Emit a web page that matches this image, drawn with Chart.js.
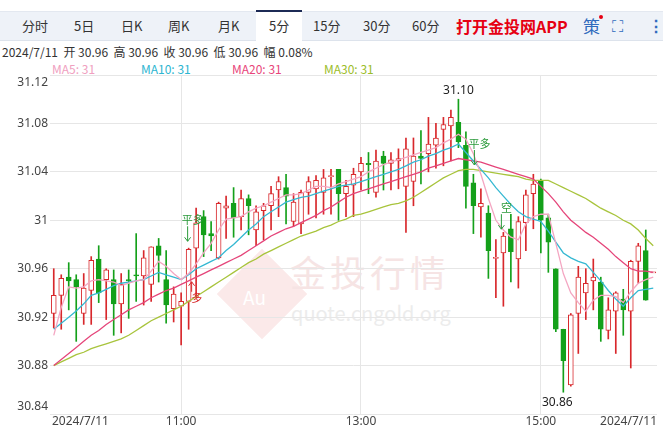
<!DOCTYPE html>
<html><head><meta charset="utf-8">
<script src="https://cdn.jsdelivr.net/npm/chart.js@4/dist/chart.umd.min.js"></script>
<style>
body{margin:0;width:663px;height:428px;overflow:hidden;background:#fff;font-family:"Noto Sans CJK SC","Noto Sans",sans-serif;position:relative}
#tabs{position:absolute;left:0;top:11px;width:663px;height:28px;background:#eef2f8;border-top:1px solid #e3e8f0;border-bottom:1px solid #dde3ec}
.t{position:absolute;top:4px;font-size:13px;color:#333}
#sel{position:absolute;left:256px;top:-2px;width:46px;height:31px;background:#fff;border-top:2px solid #1c2a55}
#info{position:absolute;left:2px;top:43px;font-size:12px;color:#333;white-space:pre}
.ma{position:absolute;top:60px;font-size:12px}
#wm{position:absolute;left:0;top:0;width:663px;height:428px;z-index:0}
canvas{position:absolute;left:0;top:70px;z-index:1}
</style></head><body>
<div id="tabs"><div id="sel"></div>
<span class="t" style="left:22px">分时</span><span class="t" style="left:74px">5日</span><span class="t" style="left:121px">日K</span><span class="t" style="left:168px">周K</span><span class="t" style="left:218px">月K</span><span class="t" style="left:269px">5分</span><span class="t" style="left:313px">15分</span><span class="t" style="left:363px">30分</span><span class="t" style="left:412px">60分</span>
<span class="t" style="left:456px;top:2px;font-size:16px;font-weight:bold;color:#e60012">打开金投网APP</span>
<span class="t" style="left:583px;top:1px;font-size:17px;color:#2f6bbd">策</span><span style="position:absolute;left:599px;top:3px;width:4px;height:4px;border-radius:2px;background:#e60012"></span>
<span class="t" style="left:612px;top:1px;font-size:16px;color:#2f6bbd">⛶</span>
<span class="t" style="left:648px;top:1px;font-size:16px;font-weight:bold;color:#2f6bbd">⋮</span></div>
<div id="info">2024/7/11  开 30.96  高 30.96  收 30.96  低 30.96  幅 0.08%</div>
<span class="ma" style="left:52px;color:#f0a0c0">MA5: 31</span>
<span class="ma" style="left:141px;color:#2db5d0">MA10: 31</span>
<span class="ma" style="left:232px;color:#e8457a">MA20: 31</span>
<span class="ma" style="left:324px;color:#9cbd2a">MA30: 31</span>
<div id="wm">
<div style="position:absolute;left:230px;top:262px;width:64px;height:64px;transform:rotate(45deg);background:#fbe9e9"></div>
<div style="position:absolute;left:243px;top:283px;font-size:19px;color:#fff">Au</div>
<div style="position:absolute;left:290px;top:245px;font-size:36px;color:#f6e4e4;letter-spacing:4px">金投行情</div>
<div style="position:absolute;left:291px;top:298px;font-size:20px;color:#ececec">quote.cngold.org</div>
</div>
<canvas id="c" width="663" height="358"></canvas>
<script>
const tickPrices=[30.84,30.88,30.92,30.96,31,31.04,31.08,31.12];
const timeLabels={0:"2024/7/11",17:"11:00",41:"13:00",65:"15:00",80:"2024/7/11"};
const openP=[30.923,30.938,30.953,30.951,30.923,30.942,30.968,30.951,30.951,30.931,30.951,30.955,30.954,30.947,30.979,30.951,30.927,30.929,30.933,30.977,31.003,30.989,30.969,31.010,31.014,31.003,31.018,30.992,31.008,31.012,31.025,31.027,30.999,30.997,31.023,31.026,31.023,31.036,31.042,31.022,31.029,31.040,31.047,31.023,31.053,31.047,31.049,31.028,31.032,31.053,31.055,31.062,31.075,31.078,31.081,31.062,31.031,31.011,31.006,30.969,30.973,30.993,30.968,30.998,31.022,31.033,31.002,30.960,30.910,30.864,30.923,30.940,30.950,30.949,30.909,30.925,30.935,30.925,30.966,30.975,30.957];
const highP=[30.960,30.955,30.965,30.955,30.956,30.970,30.979,30.960,30.959,30.956,30.959,30.989,30.975,30.978,30.985,30.975,30.945,30.940,30.977,31.010,31.008,30.999,31.015,31.020,31.027,31.025,31.021,31.012,31.014,31.028,31.036,31.038,31.022,31.025,31.036,31.037,31.042,31.042,31.042,31.033,31.043,31.052,31.056,31.058,31.057,31.056,31.059,31.068,31.068,31.074,31.085,31.080,31.085,31.091,31.100,31.073,31.038,31.026,31.012,30.984,30.990,31.005,31.003,31.025,31.038,31.034,31.005,30.960,30.910,30.923,30.962,30.960,30.968,30.953,30.936,30.941,30.943,30.967,30.981,30.992,30.957];
const lowP=[30.911,30.910,30.926,30.900,30.914,30.914,30.932,30.918,30.905,30.907,30.919,30.933,30.930,30.933,30.949,30.915,30.916,30.897,30.910,30.936,30.970,30.975,30.968,30.985,30.986,30.992,30.988,30.979,30.984,30.992,31.003,30.997,30.995,30.989,31.005,31.002,31.005,31.005,31.000,31.003,31.003,31.025,31.022,31.019,31.025,31.025,31.026,30.990,31.012,31.030,31.040,31.043,31.045,31.049,31.060,31.010,30.989,30.986,30.952,30.936,30.929,30.949,30.944,30.975,30.993,30.973,30.957,30.908,30.858,30.863,30.890,30.918,30.926,30.900,30.902,30.890,30.905,30.878,30.948,30.934,30.957];
const closeP=[30.938,30.952,30.950,30.945,30.944,30.967,30.940,30.959,30.931,30.947,30.950,30.954,30.969,30.978,30.971,30.930,30.939,30.933,30.976,30.998,30.988,30.987,31.014,31.012,31.002,31.018,31.012,31.007,31.012,31.022,31.032,31.020,31.015,31.023,31.032,31.033,31.035,31.037,31.022,31.028,31.038,31.047,31.046,31.049,31.047,31.050,31.051,31.059,31.053,31.051,31.063,31.068,31.079,31.085,31.065,31.028,31.012,31.014,30.975,30.969,30.987,30.974,30.999,31.021,31.030,31.000,30.982,30.910,30.884,30.922,30.953,30.948,30.953,30.910,30.926,30.940,30.926,30.966,30.979,30.934,30.957];
const ma5=[30.905,30.928,30.945,30.944,30.945,30.950,30.951,30.950,30.949,30.946,30.948,30.950,30.951,30.958,30.966,30.962,30.956,30.951,30.956,30.964,30.973,30.981,30.992,31.001,31.002,31.003,31.007,31.010,31.012,31.015,31.018,31.021,31.021,31.022,31.025,31.028,31.028,31.027,31.030,31.032,31.034,31.036,31.040,31.043,31.046,31.048,31.050,31.052,31.054,31.056,31.058,31.060,31.064,31.067,31.071,31.067,31.055,31.038,31.018,31.000,30.992,30.986,30.984,30.997,31.003,31.005,31.005,30.981,30.956,30.940,30.932,30.925,30.934,30.938,30.938,30.937,30.932,30.941,30.948,30.951,30.953];
const ma10=[30.910,30.915,30.920,30.925,30.931,30.938,30.940,30.943,30.946,30.948,30.949,30.950,30.951,30.954,30.957,30.955,30.953,30.951,30.955,30.960,30.963,30.966,30.969,30.975,30.980,30.986,30.992,30.997,31.003,31.007,31.011,31.015,31.017,31.019,31.020,31.022,31.024,31.026,31.028,31.029,31.030,31.032,31.034,31.036,31.038,31.040,31.042,31.045,31.048,31.050,31.053,31.055,31.058,31.060,31.063,31.056,31.049,31.042,31.035,31.027,31.020,31.013,31.007,31.003,31.001,30.999,30.991,30.982,30.973,30.969,30.966,30.964,30.957,30.950,30.942,30.935,30.929,30.936,30.942,30.943,30.944];
const ma20=[30.880,30.885,30.890,30.895,30.900,30.905,30.909,30.914,30.918,30.922,30.926,30.929,30.932,30.936,30.939,30.942,30.944,30.947,30.950,30.953,30.956,30.959,30.962,30.965,30.968,30.971,30.975,30.979,30.983,30.987,30.990,30.993,30.995,30.998,31.001,31.004,31.008,31.011,31.015,31.019,31.022,31.024,31.026,31.028,31.030,31.032,31.034,31.036,31.038,31.040,31.043,31.045,31.047,31.049,31.051,31.050,31.049,31.048,31.046,31.044,31.042,31.040,31.038,31.036,31.034,31.028,31.022,31.015,31.007,31.000,30.995,30.990,30.986,30.981,30.976,30.970,30.965,30.960,30.958,30.958,30.957];
const ma30=[30.880,30.883,30.886,30.889,30.891,30.894,30.896,30.898,30.900,30.902,30.905,30.909,30.913,30.917,30.920,30.923,30.926,30.929,30.933,30.937,30.941,30.945,30.949,30.953,30.957,30.961,30.965,30.968,30.972,30.975,30.978,30.981,30.984,30.987,30.989,30.991,30.994,30.996,30.999,31.001,31.004,31.005,31.007,31.009,31.011,31.013,31.014,31.016,31.019,31.023,31.027,31.031,31.035,31.038,31.041,31.042,31.042,31.041,31.040,31.039,31.038,31.037,31.036,31.034,31.033,31.033,31.033,31.030,31.027,31.024,31.021,31.018,31.014,31.010,31.007,31.004,31.000,30.997,30.992,30.985,30.979];

const RED='#d8272b',GREEN='#14a01a';
const n=openP.length, idx=[...Array(n).keys()];
const up=idx.map(i=>closeP[i]>=openP[i]);
const wick=idx.map(i=>({x:i,y:[lowP[i],highP[i]]}));
const body=idx.map(i=>{let a=Math.min(openP[i],closeP[i]),b=Math.max(openP[i],closeP[i]);if(b-a<0.0008){const m=(a+b)/2;a=m-0.0004;b=m+0.0004;}return {x:i,y:[a,b]};});
const line=(arr)=>arr.map((v,i)=>({x:i,y:v}));
const mk=(d,c)=>({type:'line',data:line(d),borderColor:c,borderWidth:1.3,pointRadius:0,tension:0,order:1});

const overlay={id:'ov',afterDraw(ch){
 const c=ch.ctx,x=ch.scales.x,y=ch.scales.y;
 c.save();c.font='12px "Noto Sans","DejaVu Sans",sans-serif';c.fillStyle='#444';c.textBaseline='middle';
 c.textAlign='right';
 for(const v of tickPrices){const py=Math.min(Math.max(y.getPixelForValue(v),13),337);c.fillText(String(+v.toFixed(2)),48,py);}
 for(const k in timeLabels){const i=+k;let px=x.getPixelForValue(i);
  c.textAlign=i===0?'left':(i===n-1?'right':'center');
  if(i===0)px=52;if(i===n-1)px=657;c.fillText(timeLabels[k],px,352);}
 c.fillStyle='#222';c.textAlign='center';
 c.fillText(highP[54].toFixed(2),x.getPixelForValue(54),y.getPixelForValue(highP[54])-9);
 c.fillText(lowP[68].toFixed(2),x.getPixelForValue(68)-6,y.getPixelForValue(lowP[68])+10);
 const sig=(t,col,xi,dx,py)=>{const px=x.getPixelForValue(xi)+dx,yy=y.getPixelForValue(py);
  c.fillStyle=col;c.font='11px "Noto Sans CJK SC",sans-serif';c.fillText(t,px,yy);
  c.strokeStyle=col;c.lineWidth=1;c.beginPath();
  c.moveTo(px-5,yy+6);c.lineTo(px-5,yy+21);c.moveTo(px-8,yy+17);c.lineTo(px-5,yy+21);c.lineTo(px-2,yy+17);
  c.stroke();};
 sig('平多','#2a9a3a',18,4,31.000);
 sig('平多','#2a9a3a',56,6,31.063);
 sig('空','#2a9a3a',60,3,31.010);
 const px=x.getPixelForValue(18)+8,yy=y.getPixelForValue(30.936);
 c.fillStyle=RED;c.fillText('多',px,yy);c.strokeStyle=RED;c.beginPath();c.moveTo(px-5,yy-6);c.lineTo(px-5,yy-16);c.moveTo(px-8,yy-12);c.lineTo(px-5,yy-16);c.lineTo(px-2,yy-12);c.stroke();
 c.restore();}};

new Chart(document.getElementById('c'),{
 data:{datasets:[
  {type:'bar',data:wick,grouped:false,barThickness:1,backgroundColor:idx.map(i=>up[i]?RED:GREEN),order:3},
  {type:'bar',data:body,grouped:false,barThickness:5,backgroundColor:idx.map(i=>up[i]?'#ffffff':GREEN),borderColor:idx.map(i=>up[i]?RED:GREEN),borderWidth:1,borderSkipped:false,order:2},
  mk(ma5,'#f4a6c2'),mk(ma10,'#35b8d2'),mk(ma20,'#e5457a'),mk(ma30,'#a8c43c')]},
 options:{responsive:false,animation:false,events:[],
  layout:{padding:{top:5,right:6,left:0,bottom:0}},
  plugins:{legend:{display:false},tooltip:{enabled:false}},
  scales:{
   x:{type:'linear',offset:false,min:-0.5,max:n-0.5,bounds:'data',afterBuildTicks:s=>{s.ticks=[17,41,65].map(v=>({value:v}));},
      ticks:{display:false},grid:{color:'#e6e6e6',drawTicks:false,offset:false},border:{display:false},afterFit:s=>{s.height=14;}},
   y:{min:30.84,max:31.12,afterBuildTicks:s=>{s.ticks=tickPrices.map(v=>({value:v}));},
      ticks:{display:false},
      grid:{color:'#e6e6e6',drawTicks:false},border:{display:false},afterFit:s=>{s.width=50;}}}},
 plugins:[overlay]});
</script></body></html>
